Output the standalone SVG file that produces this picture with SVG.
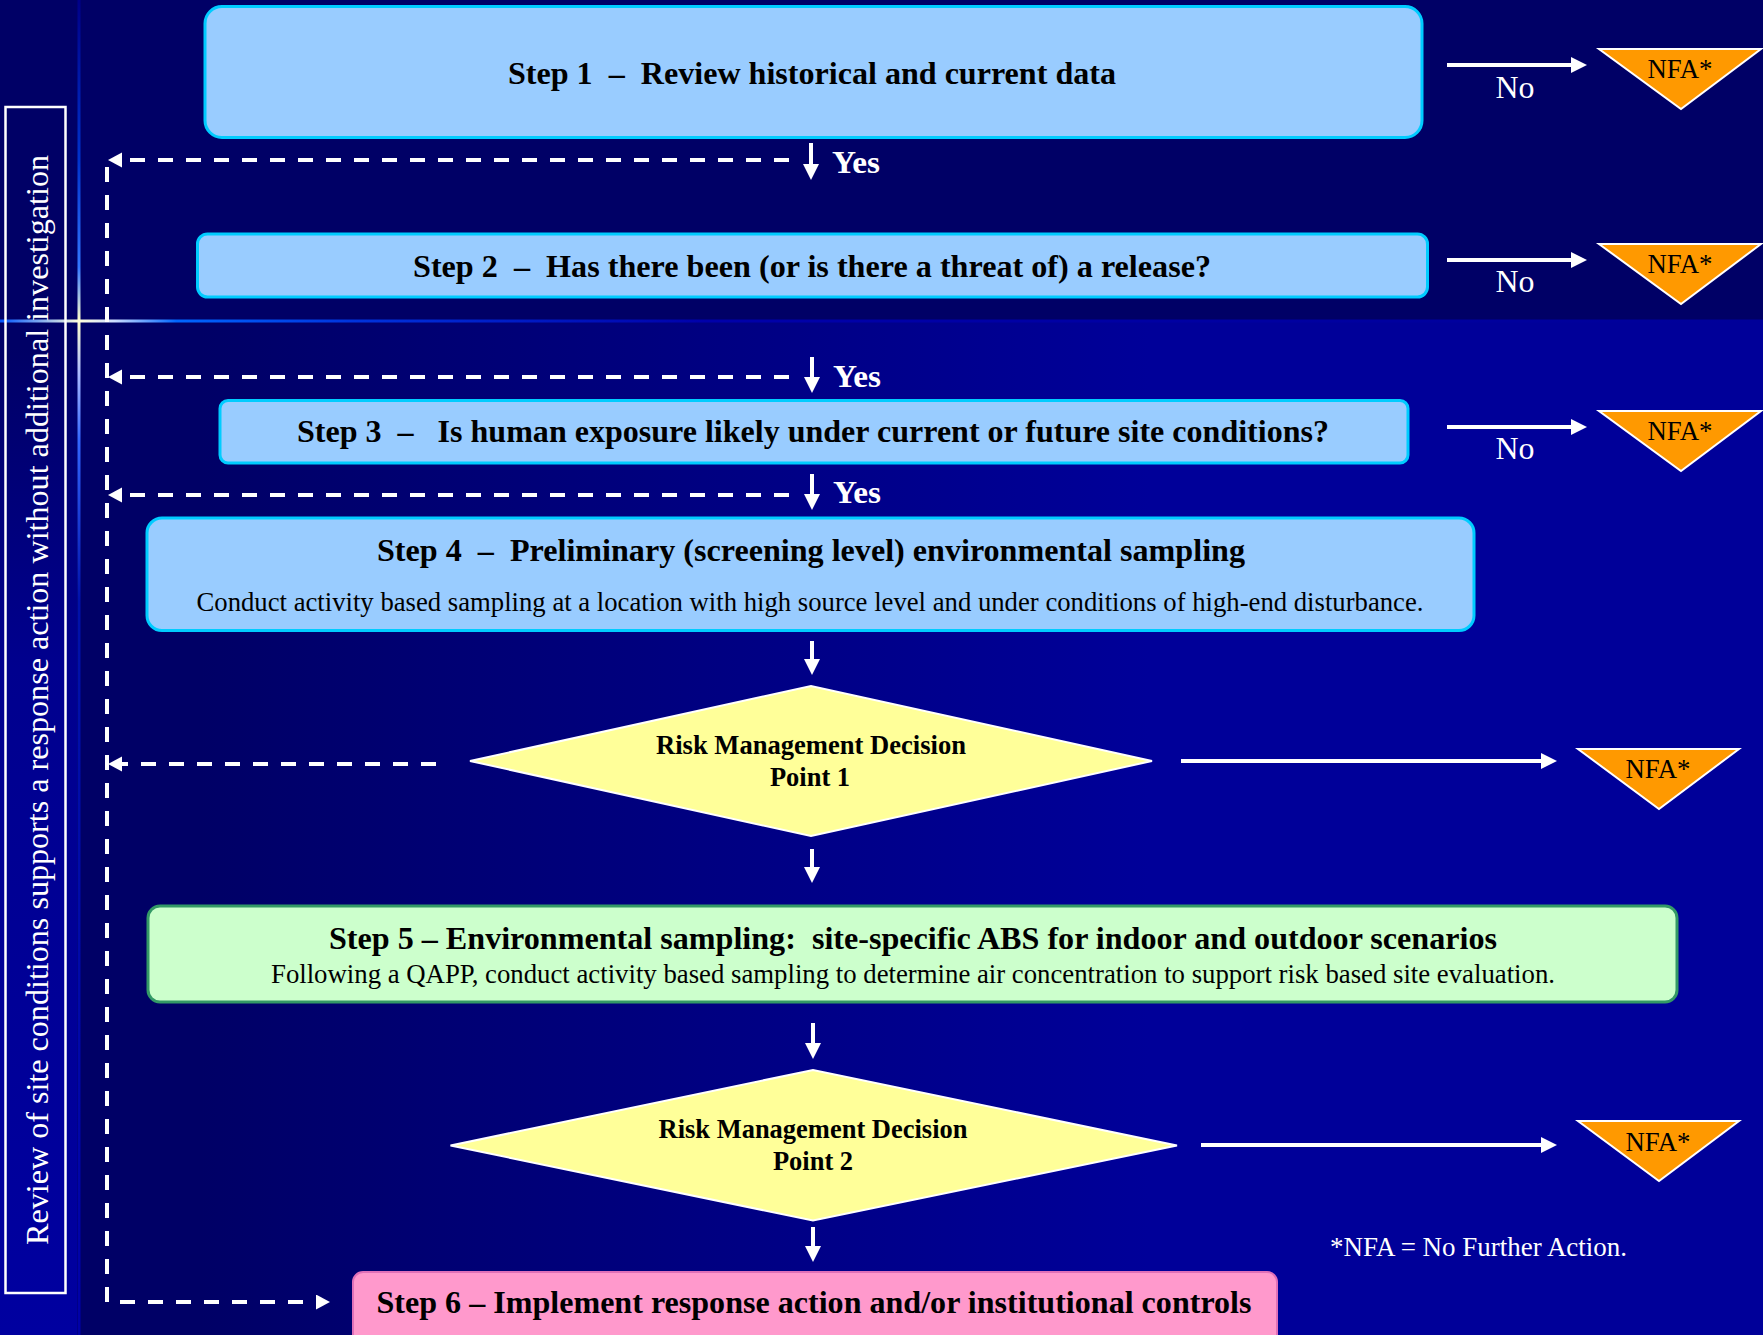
<svg xmlns="http://www.w3.org/2000/svg" width="1763" height="1335" viewBox="0 0 1763 1335">
<style>
.t{font-family:"Liberation Serif","Times New Roman",serif;}
.b{font-weight:bold;}
.k{fill:#000;}
.w{fill:#fff;}
.blue{fill:#99CCFF;stroke:#00CCFF;stroke-width:3;}
.dia{fill:#FFFF99;stroke:#fff;stroke-width:2;}
.nfa{fill:#FF9900;stroke:#fff;stroke-width:2;}
.sol{stroke:#fff;stroke-width:4;fill:none;}
.dsh{stroke:#fff;stroke-width:4;fill:none;stroke-dasharray:15 13;}
</style>
<defs>
<linearGradient id="gLow" gradientUnits="userSpaceOnUse" x1="200" y1="0" x2="1150" y2="0">
<stop offset="0" stop-color="#000066"/><stop offset="1" stop-color="#000099"/>
</linearGradient>
<linearGradient id="gStrip" gradientUnits="userSpaceOnUse" x1="0" y1="0" x2="0" y2="1335">
<stop offset="0" stop-color="#000066"/><stop offset="0.26" stop-color="#000066"/><stop offset="0.5" stop-color="#00008E"/><stop offset="1" stop-color="#0000A0"/>
</linearGradient>
<linearGradient id="gV" gradientUnits="userSpaceOnUse" x1="0" y1="0" x2="0" y2="1335">
<stop offset="0" stop-color="#000088"/><stop offset="0.12" stop-color="#0033CC"/><stop offset="0.2" stop-color="#3377FF"/><stop offset="0.24" stop-color="#FFFFCC"/><stop offset="0.28" stop-color="#AABBFF"/><stop offset="0.33" stop-color="#3366FF"/><stop offset="0.45" stop-color="#0011AA"/><stop offset="1" stop-color="#0000A8"/>
</linearGradient>
<linearGradient id="gH" gradientUnits="userSpaceOnUse" x1="0" y1="0" x2="1763" y2="0">
<stop offset="0" stop-color="#0055FF"/><stop offset="0.045" stop-color="#FFFFDD"/><stop offset="0.065" stop-color="#CCDDFF"/><stop offset="0.1" stop-color="#0066FF"/><stop offset="0.2" stop-color="#0033DD"/><stop offset="0.4" stop-color="#0000AA"/><stop offset="1" stop-color="#000099"/>
</linearGradient>
<marker id="ah" markerUnits="userSpaceOnUse" markerWidth="17" markerHeight="17" refX="4" refY="8" orient="auto">
<path d="M0,0 L16,8 L0,16 z" fill="#fff"/>
</marker>
<marker id="ahd" markerUnits="userSpaceOnUse" markerWidth="15" markerHeight="16" refX="3" refY="7.5" orient="auto">
<path d="M0,0 L14,7.5 L0,15 z" fill="#fff"/>
</marker>
</defs>

<g id="background">
<rect x="0" y="0" width="1763" height="1335" fill="#000066"/>
<rect x="77" y="322" width="1686" height="1013" fill="url(#gLow)"/>
<rect x="0" y="0" width="77" height="1335" fill="url(#gStrip)"/>
<rect x="77.5" y="0" width="3" height="1335" fill="url(#gV)"/>
<rect x="0" y="319.5" width="1763" height="3" fill="url(#gH)"/>
</g>

<g id="side-note">
<rect x="5.5" y="107" width="60" height="1186" fill="none" stroke="#fff" stroke-width="2.5"/>
<text class="t w" font-size="32" text-anchor="middle" transform="translate(48,700) rotate(-90)" textLength="1090" lengthAdjust="spacingAndGlyphs">Review of site conditions supports a response action without additional investigation</text>
</g>

<g id="connectors">
<line class="sol" x1="811" y1="143" x2="811" y2="168" marker-end="url(#ah)"/>
<line class="sol" x1="812" y1="357" x2="812" y2="381" marker-end="url(#ah)"/>
<line class="sol" x1="812" y1="474" x2="812" y2="498" marker-end="url(#ah)"/>
<line class="sol" x1="812" y1="641" x2="812" y2="663" marker-end="url(#ah)"/>
<line class="sol" x1="812" y1="849" x2="812" y2="871" marker-end="url(#ah)"/>
<line class="sol" x1="813" y1="1023" x2="813" y2="1047" marker-end="url(#ah)"/>
<line class="sol" x1="813" y1="1227" x2="813" y2="1250" marker-end="url(#ah)"/>
<line class="sol" x1="1447" y1="65" x2="1575" y2="65" marker-end="url(#ah)"/>
<line class="sol" x1="1447" y1="260" x2="1575" y2="260" marker-end="url(#ah)"/>
<line class="sol" x1="1447" y1="427" x2="1575" y2="427" marker-end="url(#ah)"/>
<line class="sol" x1="1181" y1="761" x2="1545" y2="761" marker-end="url(#ah)"/>
<line class="sol" x1="1201" y1="1145" x2="1545" y2="1145" marker-end="url(#ah)"/>
<path class="dsh" d="M789,160 L119,160" marker-end="url(#ahd)"/>
<path class="dsh" d="M789,377 L119,377" marker-end="url(#ahd)"/>
<path class="dsh" d="M789,495 L119,495" marker-end="url(#ahd)"/>
<path class="dsh" d="M436,764 L119,764" marker-end="url(#ahd)"/>
<path class="dsh" d="M107,167 L107,1302 L319,1302" marker-end="url(#ahd)"/>
<text class="t b w" font-size="31" x="832" y="173" textLength="48" lengthAdjust="spacingAndGlyphs">Yes</text>
<text class="t b w" font-size="31" x="833" y="387" textLength="48" lengthAdjust="spacingAndGlyphs">Yes</text>
<text class="t b w" font-size="31" x="833" y="503" textLength="48" lengthAdjust="spacingAndGlyphs">Yes</text>
<text class="t w" font-size="31" x="1515" y="98" text-anchor="middle" textLength="39" lengthAdjust="spacingAndGlyphs">No</text>
<text class="t w" font-size="31" x="1515" y="292" text-anchor="middle" textLength="39" lengthAdjust="spacingAndGlyphs">No</text>
<text class="t w" font-size="31" x="1515" y="459" text-anchor="middle" textLength="39" lengthAdjust="spacingAndGlyphs">No</text>
</g>

<g id="step1">
<rect class="blue" x="205" y="6.5" width="1217" height="131" rx="17"/>
<text class="t b k" font-size="32" x="812" y="84" text-anchor="middle" textLength="608" lengthAdjust="spacingAndGlyphs">Step 1&#160; –&#160; Review historical and current data</text>
</g>
<g id="step2">
<rect class="blue" x="197.5" y="234" width="1230" height="63" rx="10"/>
<text class="t b k" font-size="32" x="812" y="277" text-anchor="middle" textLength="798" lengthAdjust="spacingAndGlyphs">Step 2&#160; –&#160; Has there been (or is there a threat of) a release?</text>
</g>
<g id="step3">
<rect class="blue" x="220" y="400.5" width="1188" height="62.5" rx="8"/>
<text class="t b k" font-size="32" x="813" y="442" text-anchor="middle" textLength="1032" lengthAdjust="spacingAndGlyphs">Step 3&#160; –&#160;&#160; Is human exposure likely under current or future site conditions?</text>
</g>
<g id="step4">
<rect class="blue" x="147" y="518" width="1327" height="112.5" rx="15"/>
<text class="t b k" font-size="32" x="811" y="561" text-anchor="middle" textLength="868" lengthAdjust="spacingAndGlyphs">Step 4&#160; –&#160; Preliminary (screening level) environmental sampling</text>
<text class="t k" font-size="27" x="810" y="611" text-anchor="middle" textLength="1227" lengthAdjust="spacingAndGlyphs">Conduct activity based sampling at a location with high source level and under conditions of high-end disturbance.</text>
</g>
<g id="rmdp1">
<polygon class="dia" points="470,761 811,686 1152,761 811,836"/>
<text class="t b k" font-size="26.5" x="811" y="754" text-anchor="middle" textLength="310" lengthAdjust="spacingAndGlyphs">Risk Management Decision</text>
<text class="t b k" font-size="26.5" x="810" y="786" text-anchor="middle">Point 1</text>
</g>
<g id="step5">
<rect x="148" y="906" width="1529" height="96" rx="12" fill="#CCFFCC" stroke="#339966" stroke-width="3"/>
<text class="t b k" font-size="32" x="913" y="949" text-anchor="middle" textLength="1168" lengthAdjust="spacingAndGlyphs">Step 5 – Environmental sampling:&#160; site-specific ABS for indoor and outdoor scenarios</text>
<text class="t k" font-size="27" x="913" y="983" text-anchor="middle" textLength="1284" lengthAdjust="spacingAndGlyphs">Following a QAPP, conduct activity based sampling to determine air concentration to support risk based site evaluation.</text>
</g>
<g id="rmdp2">
<polygon class="dia" points="450.5,1145.5 813,1070 1177,1145.5 813,1220.5"/>
<text class="t b k" font-size="26.5" x="813" y="1138" text-anchor="middle" textLength="309" lengthAdjust="spacingAndGlyphs">Risk Management Decision</text>
<text class="t b k" font-size="26.5" x="813" y="1170" text-anchor="middle">Point 2</text>
</g>
<g id="step6">
<rect x="353" y="1272" width="924" height="85" rx="10" fill="#FF99CC" stroke="#E070B8" stroke-width="2"/>
<text class="t b k" font-size="32" x="814" y="1313" text-anchor="middle" textLength="875" lengthAdjust="spacingAndGlyphs">Step 6 – Implement response action and/or institutional controls</text>
</g>
<g id="nfa1">
<polygon class="nfa" points="1599,49 1761,49 1681,109"/>
<text class="t k" font-size="27" x="1680" y="78" text-anchor="middle" textLength="65" lengthAdjust="spacingAndGlyphs">NFA*</text>
</g>
<g id="nfa2">
<polygon class="nfa" points="1599,244 1761,244 1681,304"/>
<text class="t k" font-size="27" x="1680" y="273" text-anchor="middle" textLength="65" lengthAdjust="spacingAndGlyphs">NFA*</text>
</g>
<g id="nfa3">
<polygon class="nfa" points="1599,411 1761,411 1681,471"/>
<text class="t k" font-size="27" x="1680" y="440" text-anchor="middle" textLength="65" lengthAdjust="spacingAndGlyphs">NFA*</text>
</g>
<g id="nfa4">
<polygon class="nfa" points="1578,749 1739,749 1659,809"/>
<text class="t k" font-size="27" x="1658" y="778" text-anchor="middle" textLength="65" lengthAdjust="spacingAndGlyphs">NFA*</text>
</g>
<g id="nfa5">
<polygon class="nfa" points="1578,1121 1739,1121 1659,1181"/>
<text class="t k" font-size="27" x="1658" y="1151" text-anchor="middle" textLength="65" lengthAdjust="spacingAndGlyphs">NFA*</text>
</g>
<g id="legend">
<text class="t w" font-size="26.5" x="1330" y="1256" textLength="297" lengthAdjust="spacingAndGlyphs">*NFA = No Further Action.</text>
</g>
</svg>
